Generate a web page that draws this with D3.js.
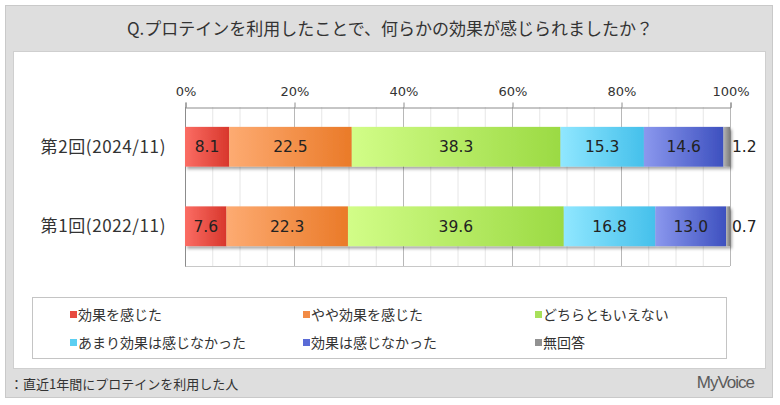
<!DOCTYPE html>
<html><head><meta charset="utf-8">
<script src="https://cdn.jsdelivr.net/npm/d3@7/dist/d3.min.js"></script>
<style>
html,body{margin:0;padding:0;background:#fff;}
svg{display:block;}
</style></head>
<body>
<svg id="chart" width="780" height="405"></svg>
<script>
const title = "Q.プロテインを利用したことで、何らかの効果が感じられましたか？";
const categories = ["第2回(2024/11)", "第1回(2022/11)"];
const seriesNames = ["効果を感じた","やや効果を感じた","どちらともいえない","あまり効果は感じなかった","効果は感じなかった","無回答"];
const round2Values = [8.1, 22.5, 38.3, 15.3, 14.6, 1.2];
const round1Values = [7.6, 22.3, 39.6, 16.8, 13.0, 0.7];
const tickValues = [0, 20, 40, 60, 80, 100];
const tickLabels = ["0%", "20%", "40%", "60%", "80%", "100%"];
const footnote = "：直近1年間にプロテインを利用した人";
const brand = "MyVoice";

const colorsLight = ["#fb6d64","#fdab72","#d2fd88","#90e7ff","#8b98ee","#b4b4b4"];
const colorsDark  = ["#d8372c","#ea7a28","#9bda43","#45c0eb","#3d50bf","#7c7c7c"];
const legendColors = ["#e84a3f","#f28b45","#a8e05a","#5ccff2","#5a6bd6","#929292"];

const dataRows = [round2Values, round1Values];

const svg = d3.select("#chart");
const cjk = "'Noto Sans CJK JP','Noto Sans',sans-serif";
const latin = "'DejaVu Sans','Verdana',sans-serif";

const defs = svg.append("defs");
seriesNames.forEach((s,i)=>{
  const g = defs.append("linearGradient").attr("id","grad"+i).attr("x1","0%").attr("x2","100%").attr("y1","0%").attr("y2","0%");
  g.append("stop").attr("offset","0%").attr("stop-color",colorsLight[i]);
  g.append("stop").attr("offset","100%").attr("stop-color",colorsDark[i]);
});
const f = defs.append("filter").attr("id","shadow").attr("x","-5%").attr("y","-20%").attr("width","115%").attr("height","150%");
f.append("feDropShadow").attr("dx",2).attr("dy",2.5).attr("stdDeviation",1.6).attr("flood-color","#000").attr("flood-opacity",0.35);

// frames
svg.append("rect").attr("x",5.5).attr("y",5.5).attr("width",767).attr("height",392).attr("fill","#dedede").attr("stroke","#c9c9c9");
svg.append("rect").attr("x",13.5).attr("y",51.5).attr("width",752).attr("height",317).attr("fill","#fff").attr("stroke","#cfcfcf");

svg.append("text").attr("x",390).attr("y",35).attr("text-anchor","middle")
  .attr("font-family",cjk).attr("font-size",17).attr("fill","#333").text(title);

const x = d3.scaleLinear().domain([0,100]).range([185,730]);
const y = d3.scaleBand().domain(categories).range([107,266]).paddingInner(0.5).paddingOuter(0.25);

// gridlines
const minor = d3.range(0,101,5).filter(v=>v%20!==0);
svg.append("g").selectAll("line").data(minor).join("line")
  .attr("x1",d=>x(d)+0.5).attr("x2",d=>x(d)+0.5).attr("y1",107).attr("y2",266)
  .attr("stroke","#e6e6e6");
svg.append("g").selectAll("line").data(tickValues.slice(1)).join("line")
  .attr("x1",d=>x(d)+0.5).attr("x2",d=>x(d)+0.5).attr("y1",107).attr("y2",266)
  .attr("stroke","#b8b8b8");
// frame lines of plot
svg.append("line").attr("x1",x(0)).attr("x2",x(100)).attr("y1",266.5).attr("y2",266.5).attr("stroke","#c8c8c8");
svg.append("line").attr("x1",x(0)+0.5).attr("x2",x(0)+0.5).attr("y1",107).attr("y2",266.5).attr("stroke","#8c8c8c");

// top axis
const axis = d3.axisTop(x).tickValues(tickValues).tickFormat((d,i)=>tickLabels[i]).tickSize(5).tickPadding(7);
const ag = svg.append("g").attr("transform","translate(0.5,107.5)").call(axis);
ag.select(".domain").attr("stroke","#8c8c8c");
ag.selectAll(".tick line").attr("stroke","#8c8c8c");
ag.selectAll(".tick text").attr("font-family",latin).attr("font-size",13).attr("fill","#333");

// bars
categories.forEach((cat,ci)=>{
  const vals = dataRows[ci];
  let cum = 0;
  const segs = vals.map((v,i)=>{ const s={i,v,x0:cum,x1:cum+v}; cum+=v; return s; });
  const g = svg.append("g");
  g.append("g").attr("filter","url(#shadow)").selectAll("rect").data(segs).join("rect")
    .attr("x",d=>x(d.x0)).attr("width",d=>x(d.x1)-x(d.x0))
    .attr("y",y(cat)).attr("height",y.bandwidth())
    .attr("fill",d=>"url(#grad"+d.i+")");
  g.selectAll("text").data(segs).join("text")
    .attr("x",d=> d.i===5 ? x(100)+2 : (x(d.x0)+x(d.x1))/2)
    .attr("text-anchor",d=> d.i===5 ? "start" : "middle")
    .attr("y",y(cat)+y.bandwidth()/2)
    .attr("dy","0.36em")
    .attr("font-family",latin).attr("font-size",15.5).attr("fill","#222")
    .text(d=>d.v.toFixed(1));
  svg.append("text").attr("x",166).attr("y",y(cat)+y.bandwidth()/2).attr("dy","0.36em")
    .attr("text-anchor","end").attr("font-family",cjk).attr("font-size",17).attr("letter-spacing",0.6).attr("fill","#333").text(cat);
});

// legend
svg.append("rect").attr("x",32.5).attr("y",297.5).attr("width",694).attr("height",61).attr("fill","#fff").attr("stroke","#c4c4c4");
const legX = [70, 303, 535];
const legY = [315, 343];
seriesNames.forEach((s,i)=>{
  const lx = legX[i%3], ly = legY[Math.floor(i/3)];
  svg.append("rect").attr("x",lx).attr("y",ly-4).attr("width",7).attr("height",7).attr("fill",legendColors[i]);
  svg.append("text").attr("x",lx+8).attr("y",ly).attr("dy","0.36em")
    .attr("font-family",cjk).attr("font-size",14).attr("fill","#333").text(s);
});

// footer
svg.append("text").attr("x",10).attr("y",384).attr("dy","0.36em").attr("font-family",cjk).attr("font-size",13).attr("fill","#333").text(footnote);
svg.append("text").attr("x",754).attr("y",382).attr("dy","0.36em").attr("text-anchor","end")
  .attr("font-family","'Liberation Sans',Arial,sans-serif").attr("font-size",17).attr("letter-spacing",-1).attr("fill","#5a5a5a").text(brand);
</script>
</body></html>
